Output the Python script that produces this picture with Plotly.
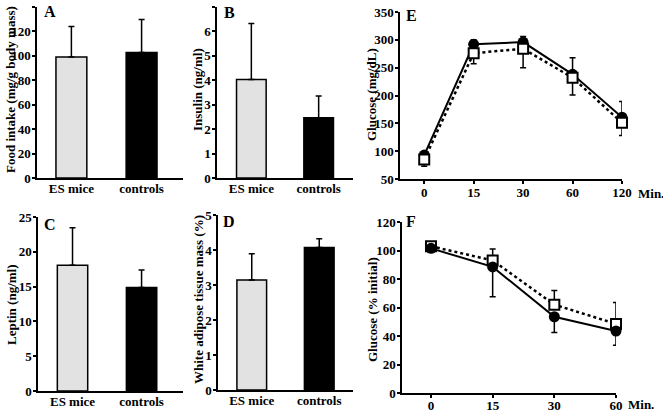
import plotly.graph_objects as go

W, H = 663, 413

groups = ["ES mice", "controls"]
food_intake = [99, 102.7]
food_err = [25, 27]
insulin = [4.03, 2.47]
insulin_err = [2.29, 0.89]
leptin = [18.07, 14.87]
leptin_err = [5.4, 2.5]
wat_mass = [3.14, 4.07]
wat_err = [0.75, 0.25]

gtt_times = ["0", "15", "30", "60", "120"]
gtt_circle = [93, 292, 296, 238, 161]
gtt_circle_up = [3, 8, 10, 30, 28]
gtt_square = [85, 276, 284, 232, 151]
gtt_square_down = [12, 19, 34, 31, 23]

itt_times = ["0", "15", "30", "60"]
itt_circle = [101.5, 88.5, 53.5, 43.5]
itt_circle_down = [0, 21, 11, 10]
itt_square = [103, 93, 62, 48.5]
itt_square_up = [0, 8, 10, 15]

FONT = "Liberation Serif"
bar_colors = ["#e2e2e2", "#000000"]


def px_x(a, b):
    return [a / W, b / W]


def px_y(top, bottom):
    return [1 - bottom / H, 1 - top / H]


fig = go.Figure()

axis_common = dict(
    showline=True, linecolor="black", linewidth=1.5, mirror=False,
    showgrid=False, zeroline=False, automargin=False,
    tickfont=dict(family=FONT, size=13, color="black", weight="bold"),
)
ytick = dict(ticks="outside", ticklen=3, tickwidth=1.5, tickcolor="black",
             ticklabelstandoff=-1)

panels = [
    # axis suffix, values, errors, xdomain px, ydomain px, xrange, yrange, dtick
    ("", food_intake, food_err, (37, 183), (7, 178), [-0.49, 1.59], [0, 140], 20),
    ("2", insulin, insulin_err, (217, 353), (7, 178), [-0.51, 1.51], [0, 7], 1),
    ("3", leptin, leptin_err, (38, 183), (217, 391), [-0.5, 1.6], [0, 25], 5),
    ("4", wat_mass, wat_err, (218, 353), (215, 390), [-0.5, 1.5], [0, 5], 1),
]

for name, vals, errs, xd, yd, xr, yr, dt in panels:
    fig.add_trace(go.Bar(
        x=groups, y=vals, width=0.44,
        marker=dict(color=bar_colors, line=dict(color="black", width=1.5)),
        error_y=dict(type="data", array=errs, arrayminus=[0, 0], symmetric=False,
                     color="black", thickness=1.5, width=3),
        xaxis="x" + name, yaxis="y" + name, showlegend=False,
    ))
    fig.update_layout(**{
        "xaxis" + name: dict(domain=px_x(*xd), range=xr, anchor="y" + name,
                             ticks="", ticklabelstandoff=-2, **axis_common),
        "yaxis" + name: dict(domain=px_y(*yd), range=yr, anchor="x" + name,
                             dtick=dt, **ytick, **axis_common),
    })

# Panel E
fig.add_trace(go.Scatter(
    x=list(range(len(gtt_times))), y=gtt_circle, mode="lines+markers",
    line=dict(color="black", width=2),
    marker=dict(symbol="circle", size=11, color="black"),
    error_y=dict(type="data", array=gtt_circle_up, arrayminus=[0] * 5, symmetric=False,
                 color="black", thickness=1.5, width=3),
    xaxis="x5", yaxis="y5", showlegend=False, cliponaxis=False,
))
fig.add_trace(go.Scatter(
    x=list(range(len(gtt_times))), y=gtt_square, mode="lines+markers",
    line=dict(color="black", width=2.5, dash="dot"),
    marker=dict(symbol="square", size=10, color="white", line=dict(color="black", width=2)),
    error_y=dict(type="data", array=[0] * 5, arrayminus=gtt_square_down, symmetric=False,
                 color="black", thickness=1.5, width=3),
    xaxis="x5", yaxis="y5", showlegend=False, cliponaxis=False,
))
# Panel F
fig.add_trace(go.Scatter(
    x=list(range(len(itt_times))), y=itt_square, mode="lines+markers",
    line=dict(color="black", width=2.5, dash="dot"),
    marker=dict(symbol="square", size=10, color="white", line=dict(color="black", width=2)),
    error_y=dict(type="data", array=itt_square_up, arrayminus=[0] * 4, symmetric=False,
                 color="black", thickness=1.5, width=3),
    xaxis="x6", yaxis="y6", showlegend=False, cliponaxis=False,
))
fig.add_trace(go.Scatter(
    x=list(range(len(itt_times))), y=itt_circle, mode="lines+markers",
    line=dict(color="black", width=2),
    marker=dict(symbol="circle", size=11, color="black"),
    error_y=dict(type="data", array=[0] * 4, arrayminus=itt_circle_down, symmetric=False,
                 color="black", thickness=1.5, width=3),
    xaxis="x6", yaxis="y6", showlegend=False, cliponaxis=False,
))

xtick = dict(ticks="outside", ticklen=3, tickwidth=1.5, tickcolor="black",
             ticklabelstandoff=-2)
fig.update_layout(
    xaxis5=dict(domain=px_x(400, 622), range=[-0.49, 4.0], anchor="y5",
                tickvals=list(range(len(gtt_times))), ticktext=gtt_times,
                **xtick, **axis_common),
    yaxis5=dict(domain=px_y(12, 179), range=[50, 350], anchor="x5", dtick=50,
                **ytick, **axis_common),
    xaxis6=dict(domain=px_x(402, 616), range=[-0.47, 3.0], anchor="y6",
                tickvals=list(range(len(itt_times))), ticktext=itt_times,
                ticks="outside", ticklen=3, tickwidth=1.5, tickcolor="black",
                ticklabelstandoff=-3, **axis_common),
    yaxis6=dict(domain=px_y(222, 393), range=[0, 120], anchor="x6", dtick=20,
                **ytick, **axis_common),
)

ann = []


def add_text(text, x, y, size=13, angle=0):
    ann.append(dict(text=text, x=x / W, y=1 - y / H, xref="paper", yref="paper",
                    showarrow=False, textangle=angle, xanchor="center", yanchor="middle",
                    font=dict(family=FONT, size=size, color="black", weight="bold")))


add_text("Food intake (mg/g body mass)", 10, 90, angle=-90)
add_text("Insulin (ng/ml)", 197, 90, angle=-90)
add_text("Leptin (ng/ml)", 11, 305, angle=-90)
add_text("White adipose tissue mass (%)", 198, 300, angle=-90)
add_text("Glucose (mg/dL)", 372, 95, angle=-90)
add_text("Glucose (% initial)", 372, 310, angle=-90)
add_text("A", 50, 12, size=16)
add_text("B", 229, 13, size=16)
add_text("C", 50, 224, size=16)
add_text("D", 229, 221, size=16)
add_text("E", 411, 15, size=16)
add_text("F", 411, 221, size=16)
add_text("Min.", 651, 193)
add_text("Min.", 641, 404)

fig.update_layout(
    template="none",
    width=W, height=H, margin=dict(l=0, r=0, t=0, b=0),
    paper_bgcolor="white", plot_bgcolor="white",
    annotations=ann, bargap=0.3,
    font=dict(family=FONT, size=13, color="black"),
)

fig.write_html(
    "out.html",
    config={"displayModeBar": False},
    post_script="document.body.style.margin='0';document.body.style.overflow='hidden';",
)
